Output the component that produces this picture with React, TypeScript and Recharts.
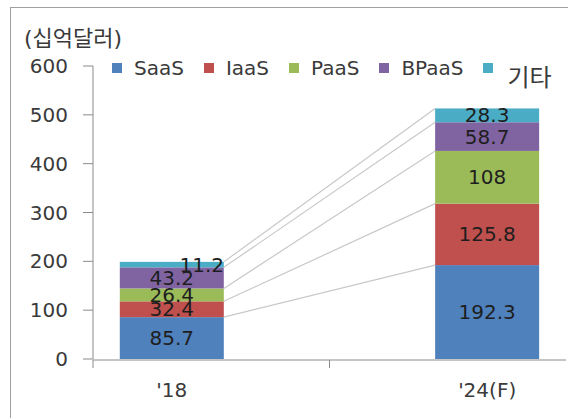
import React from 'react';
import { BarChart, Bar, XAxis, YAxis, Legend, LabelList } from 'recharts';

const categories = ["'18", '', "'24(F)"];
const saas = [85.7, null, 192.3];
const iaas = [32.4, null, 125.8];
const paas = [26.4, null, 108];
const bpaas = [43.2, null, 58.7];
const etc = [11.2, null, 28.3];
const yTicks = [0, 100, 200, 300, 400, 500, 600];
const edgeTicks = [0, 1, 2, 3];

const seriesList = [
  { key: 'saas', name: 'SaaS', values: saas, color: '#4F81BD' },
  { key: 'iaas', name: 'IaaS', values: iaas, color: '#C0504D' },
  { key: 'paas', name: 'PaaS', values: paas, color: '#9BBB59' },
  { key: 'bpaas', name: 'BPaaS', values: bpaas, color: '#8064A2' },
  { key: 'etc', name: '기타', values: etc, color: '#4BACC6' },
];

const data = categories.map((name, i) => {
  const row: any = { name };
  seriesList.forEach((s) => {
    row[s.key] = s.values[i];
  });
  return row;
});

const FONT = '"DejaVu Sans", "Noto Sans CJK KR", sans-serif';

// top-right corner of each segment of the first bar, used for the series lines
const leftTops: Record<string, { x: number; y: number }> = {};

const makeShape = (key: string) => (props: any) => {
  const { x, y, width, height, fill, index } = props;
  if (height == null || !isFinite(height) || height <= 0) return <g />;
  let connector = null;
  if (index === 0) {
    leftTops[key] = { x: x + width, y };
  } else if (index === 2 && leftTops[key]) {
    const p = leftTops[key];
    connector = (
      <line x1={p.x} y1={p.y} x2={x} y2={y} stroke="#c8c8c8" strokeWidth={1.2} />
    );
  }
  return (
    <g>
      {connector}
      <rect x={x} y={y} width={width} height={height} fill={fill} />
    </g>
  );
};

const renderLabel = (props: any) => {
  const { x, y, width, height, value } = props;
  if (value == null) return null;
  const small = Math.abs(height) < 8;
  return (
    <text
      x={x + width / 2 + (small ? 30 : 0)}
      y={y + height / 2}
      textAnchor="middle"
      dominantBaseline="central"
      fontSize={20}
      fontFamily={FONT}
      fill="#1e1e1e"
    >
      {value}
    </text>
  );
};

const LegendContent = (props: any) => {
  const payload = [...(props.payload || [])].sort(
    (a: any, b: any) =>
      seriesList.findIndex((s) => s.name === a.value) - seriesList.findIndex((s) => s.name === b.value)
  );
  return (
    <div style={{ display: 'flex', alignItems: 'flex-start', fontFamily: FONT, color: '#3a3a3a' }}>
      {payload.map((entry: any, i: number) => {
        const last = i === payload.length - 1;
        return (
          <div key={entry.value} style={{ display: 'flex', alignItems: 'flex-start', marginRight: 20 }}>
            <span
              style={{
                width: 10,
                height: 10,
                marginTop: 7,
                marginRight: last ? 14 : 12,
                background: entry.color,
                display: 'inline-block',
              }}
            />
            <span
              style={{
                fontSize: last ? 24 : 20,
                lineHeight: '24px',
                marginTop: last ? 10 : 0,
              }}
            >
              {entry.value}
            </span>
          </div>
        );
      })}
    </div>
  );
};

export default function App() {
  return (
    <div
      style={{
        position: 'fixed',
        left: 0,
        top: 0,
        width: 568,
        height: 418,
        background: '#fff',
        overflow: 'hidden',
      }}
    >
      <div
        style={{
          position: 'absolute',
          left: 10,
          top: 7,
          width: 600,
          height: 500,
          border: '1px solid #a0a0a0',
        }}
      />
      <div
        style={{
          position: 'absolute',
          left: 24,
          top: 24,
          fontFamily: FONT,
          fontSize: 22,
          lineHeight: '30px',
          color: '#3a3a3a',
        }}
      >
        (십억달러)
      </div>
      <div style={{ position: 'absolute', left: 0, top: 0 }}>
        <BarChart
          width={568}
          height={418}
          data={data}
          margin={{ top: 66, right: 2, bottom: 57, left: 0 }}
          barCategoryGap="17%"
        >
          <XAxis
            dataKey="name"
            axisLine={false}
            tickLine={false}
            tickSize={0}
            tickMargin={24}
            height={1}
            interval={0}
            tick={{ fontSize: 20, fill: '#3a3a3a', fontFamily: FONT }}
          />
          <XAxis
            xAxisId="edge"
            type="number"
            domain={[0, 3]}
            ticks={edgeTicks}
            allowDataOverflow
            tickFormatter={() => ''}
            tickSize={8}
            height={1}
            axisLine={{ stroke: '#8a8a8a' }}
            tickLine={{ stroke: '#8a8a8a' }}
          />
          <YAxis
            domain={[0, 600]}
            ticks={yTicks}
            width={93}
            tickSize={10}
            tickMargin={15}
            axisLine={{ stroke: '#8a8a8a' }}
            tickLine={{ stroke: '#8a8a8a' }}
            tick={{ fontSize: 20, fill: '#3a3a3a', fontFamily: FONT }}
          />
          <Legend
            verticalAlign="middle"
            align="center"
            layout="horizontal"
            content={<LegendContent />}
            wrapperStyle={{ top: 56, left: 112, width: 460 }}
          />
          {seriesList.map((s) => (
            <Bar
              key={s.key}
              dataKey={s.key}
              name={s.name}
              stackId="a"
              fill={s.color}
              shape={makeShape(s.key)}
              isAnimationActive={false}
            >
              <LabelList dataKey={s.key} content={renderLabel} />
            </Bar>
          ))}
        </BarChart>
      </div>
    </div>
  );
}
